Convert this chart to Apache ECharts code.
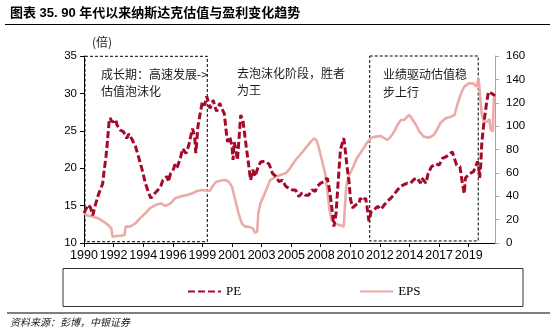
<!DOCTYPE html>
<html><head><meta charset="utf-8">
<script src="https://cdn.jsdelivr.net/npm/echarts@6/dist/echarts.min.js"></script>
<style>html,body{margin:0;padding:0;background:#fff}#c{width:555px;height:329px}</style>
</head><body><div id="c"></div>
<script>
// x = months since Jan 1990
const startYear = 1990;
const tickEveryMonths = 27;
const lastMonth = 375;

const peData = [[0,14.0],[2,14.6],[4,15.1],[6,14.7],[8,13.7],[10,14.9],[13,16.4],[15,17.2],[17,17.9],[18,19.2],[20,21.5],[21,22.9],[23,26.4],[24,26.7],[25,26.3],[27,26.2],[29,26.5],[30,25.8],[33,25.1],[36,24.9],[39,24.0],[41,24.6],[42,24.4],[44,23.8],[47,22.9],[50,21.4],[53,19.8],[56,18.0],[59,16.7],[61,16.0],[63,16.4],[65,16.7],[68,17.2],[70,17.6],[72,18.4],[74,18.7],[76,18.9],[77,18.2],[79,19.3],[81,19.6],[83,20.5],[85,20.1],[88,21.4],[90,22.6],[91,22.5],[93,22.0],[94,22.3],[96,23.3],[97,24.0],[99,25.3],[100,25.1],[101,24.2],[102,22.0],[103,22.0],[104,25.6],[106,27.3],[108,28.9],[110,28.4],[112,29.6],[113,29.7],[115,28.0],[118,29.1],[119,28.4],[121,27.6],[124,28.7],[125,28.2],[128,27.3],[130,24.6],[131,23.5],[133,24.2],[135,22.9],[136,21.1],[137,23.5],[138,22.9],[140,21.1],[142,25.1],[143,27.1],[145,26.4],[148,22.9],[150,20.7],[152,18.4],[154,19.8],[156,18.9],[159,20.2],[161,20.8],[163,20.9],[166,20.9],[169,20.5],[172,19.3],[175,18.9],[178,18.2],[181,18.4],[184,17.6],[187,17.3],[190,17.1],[193,17.1],[196,16.2],[199,16.7],[202,16.4],[205,16.4],[208,17.1],[211,16.9],[213,17.6],[216,18.0],[219,18.2],[222,18.7],[224,17.1],[226,14.9],[228,12.2],[230,14.0],[232,18.4],[234,22.5],[237,24.0],[238,22.9],[240,20.2],[242,18.0],[243,16.0],[245,14.7],[248,15.1],[251,15.3],[252,16.0],[254,15.6],[257,16.0],[258,15.1],[260,12.9],[262,14.2],[265,14.5],[268,14.9],[271,14.5],[274,15.1],[277,15.6],[280,16.0],[283,16.5],[286,17.1],[289,17.6],[292,17.8],[295,18.0],[298,18.0],[301,18.5],[304,18.7],[307,18.0],[308,18.7],[312,18.0],[314,19.3],[317,20.2],[321,20.6],[324,20.4],[327,21.3],[330,21.5],[333,21.8],[336,22.2],[338,21.3],[340,20.4],[343,20.2],[345,18.2],[347,16.6],[348,18.7],[352,19.3],[355,19.5],[357,20.0],[359,20.9],[360,20.4],[361,18.7],[362,20.4],[363,23.5],[365,26.2],[367,28.4],[369,30.2],[370,30.4],[372,30.0],[375,29.7]];

const epsData = [[0,25.4],[2,24.0],[8,22.5],[13,21.1],[18,18.3],[22,15.4],[25,12.5],[26,5.4],[30,6.0],[34,6.3],[37,6.8],[38,14.0],[42,14.0],[47,16.8],[51,21.1],[56,25.4],[60,29.7],[65,32.5],[70,33.9],[74,31.7],[79,33.9],[83,38.2],[88,39.7],[94,41.1],[99,42.5],[103,44.5],[108,45.3],[112,44.8],[115,44.5],[117,48.2],[120,52.0],[124,53.3],[129,53.9],[132,52.5],[135,48.2],[138,36.8],[141,25.4],[144,16.8],[147,14.0],[150,14.0],[154,12.5],[156,8.8],[158,9.7],[159,25.4],[161,33.9],[165,42.5],[168,49.6],[170,53.9],[175,56.7],[179,58.2],[184,59.6],[188,63.9],[193,71.0],[197,75.3],[202,81.0],[207,86.7],[210,89.5],[212,88.1],[214,82.4],[217,71.0],[220,59.6],[222,45.3],[224,28.2],[226,19.7],[229,16.8],[233,15.4],[237,14.0],[238,14.0],[239,45.0],[240,52.5],[242,58.2],[245,64.0],[249,72.5],[254,79.6],[258,85.3],[262,90.1],[266,91.0],[271,91.5],[274,89.6],[277,88.2],[280,91.0],[283,95.3],[286,101.0],[289,105.2],[292,105.2],[295,108.1],[297,109.5],[300,105.2],[303,101.0],[306,95.3],[310,91.0],[315,90.1],[319,92.4],[322,96.7],[325,102.4],[330,106.7],[335,108.1],[338,109.5],[341,119.5],[344,128.1],[347,133.8],[351,136.6],[355,136.6],[358,133.8],[360,140.9],[361,142.3],[362,120.0],[363,109.5],[365,104.0],[368,103.8],[370,106.0],[371,97.0],[373,95.3],[374,123.8],[375,125.0]];

// dashed annotation boxes: [startMonth, endMonth, lowPE, highPE]
const boxes = [[0.9, 112.5, 10.17, 34.96], [260.7, 359.7, 10.27, 35.36]];

const titleText = '图表 35. 90 年代以来纳斯达克估值与盈利变化趋势';
const unitText = '(倍)';
const sourceText = '资料来源：彭博，中银证券';
const notes = [
  ['成长期：高速发展->', '估值泡沫化'],
  ['去泡沫化阶段，胜者', '为王'],
  ['业绩驱动估值稳', '步上行']
];

const PE_COLOR = '#A50A2A';
const EPS_COLOR = '#EBABA9';
const CJK = '"Noto Sans CJK SC"';
const LAT = '"Liberation Sans"';

const chart = echarts.init(document.getElementById('c'), null, {renderer: 'canvas'});

const noteStyle = (text, x, y) => ({
  type: 'text', x: x, y: y, z: 100,
  style: {text: text, font: '12px ' + CJK, fill: '#1a1a1a', verticalAlign: 'middle'}
});

const option = {
  backgroundColor: '#fff',
  animation: false,
  grid: {left: 84, right: 60, top: 56, bottom: 86, containLabel: false},
  xAxis: {
    type: 'value', min: 0, max: lastMonth, interval: tickEveryMonths,
    axisLine: {show: true, lineStyle: {color: '#000', width: 1}},
    axisTick: {show: true, length: 4, lineStyle: {color: '#000'}},
    splitLine: {show: false},
    axisLabel: {
      showMaxLabel: false, margin: 6, color: '#000',
      fontFamily: '"Liberation Sans Narrow", "Liberation Sans"', fontSize: 12.5,
      formatter: v => (v % tickEveryMonths === 0) ? String(startYear + Math.floor(v / 12)) : ''
    }
  },
  yAxis: [
    {
      type: 'value', min: 10, max: 35, interval: 5, position: 'left',
      axisLine: {show: true, lineStyle: {color: '#000', width: 1}},
      axisTick: {show: true, length: 4, lineStyle: {color: '#000'}},
      splitLine: {show: false},
      axisLabel: {margin: 7, color: '#000', fontFamily: LAT, fontSize: 11.5}
    },
    {
      type: 'value', min: 0, max: 160, interval: 20, position: 'right',
      axisLine: {show: true, lineStyle: {color: '#a6a6a6', width: 1}},
      axisTick: {show: true, length: 4, lineStyle: {color: '#a6a6a6'}},
      splitLine: {show: false},
      axisLabel: {margin: 11, color: '#000', fontFamily: LAT, fontSize: 11.5}
    }
  ],
  legend: {
    data: ['PE', 'EPS'], left: 182, top: 280, itemWidth: 33, itemHeight: 14, itemGap: 118,
    itemStyle: {opacity: 0},
    textStyle: {fontFamily: '"Liberation Serif"', fontSize: 13, color: '#000'}
  },
  series: [
    {
      name: 'EPS', type: 'line', yAxisIndex: 1, data: epsData, symbol: 'none',
      lineStyle: {color: EPS_COLOR, width: 2.6}, itemStyle: {color: EPS_COLOR}, z: 2
    },
    {
      name: 'PE', type: 'line', yAxisIndex: 0, data: peData, symbol: 'none',
      lineStyle: {color: PE_COLOR, width: 3, type: [7, 3]}, itemStyle: {color: PE_COLOR}, z: 3
    },
    {
      name: 'boxes', type: 'line', yAxisIndex: 0, data: [], clip: false, z: 4,
      markArea: {
        silent: true,
        itemStyle: {color: 'rgba(0,0,0,0)', borderColor: '#000', borderWidth: 1, borderType: [3, 2]},
        data: boxes.map(b => [{coord: [b[0], b[3]]}, {coord: [b[1], b[2]]}])
      }
    }
  ],
  graphic: [
    {type: 'text', x: 10, y: 13, style: {text: titleText, font: 'bold 13px ' + LAT + ', ' + CJK, fill: '#000', verticalAlign: 'middle'}},
    {type: 'line', shape: {x1: 5, y1: 24.5, x2: 550, y2: 24.5}, style: {stroke: '#000', lineWidth: 1.2}},
    {type: 'text', x: 92, y: 42, style: {text: unitText, font: '12px ' + CJK, fill: '#222', verticalAlign: 'middle'}},
    noteStyle(notes[0][0], 101, 74), noteStyle(notes[0][1], 101, 91.5),
    noteStyle(notes[1][0], 237, 73.5), noteStyle(notes[1][1], 237, 90.5),
    noteStyle(notes[2][0], 383, 74.5), noteStyle(notes[2][1], 383, 92),
    {type: 'rect', shape: {x: 63, y: 268.5, width: 460, height: 38}, style: {fill: 'none', stroke: '#333', lineWidth: 1}},
    {type: 'line', shape: {x1: 7, y1: 313, x2: 550, y2: 313}, style: {stroke: '#000', lineWidth: 1.2}},
    {type: 'text', x: 10, y: 322.5, style: {text: sourceText, font: 'italic 10px ' + CJK, fill: '#222', verticalAlign: 'middle'}}
  ]
};
chart.setOption(option);
</script>
</body></html>
